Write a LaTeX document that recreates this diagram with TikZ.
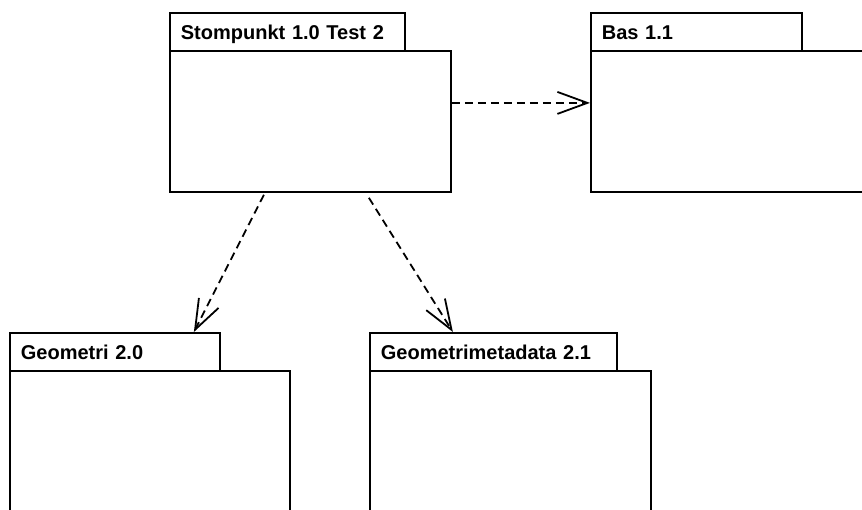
\documentclass[tikz,border=0pt]{standalone}
\usepackage{fontspec}
\setmainfont{Liberation Sans}
\usetikzlibrary{arrows.meta}
\begin{document}
\begin{tikzpicture}[x=1pt,y=-1pt,
  pkgtab/.style={draw, line width=1.8pt, anchor=north west, minimum height=38pt,
    inner xsep=11pt, inner ysep=0pt, align=left, text height=14.5pt, text depth=0pt,
    font=\fontsize{20pt}{24pt}\selectfont\bfseries},
  pkgbody/.style={draw, line width=1.8pt, anchor=north west, inner sep=0pt},
  dep/.style={line width=1.8pt, dash pattern=on 8pt off 5pt,
    -{Straight Barb[length=30pt,width=22pt,line width=1.8pt]}}]
\clip (0,0) rectangle (862,509);
\fill[white] (0,0) rectangle (862,509);
% Stompunkt
\node[pkgbody, minimum width=281pt, minimum height=141pt] (s) at (169,50) {};
\node[pkgtab, text width=213pt] (st) at (169,12) {Stompunkt 1.0 Test 2};
% Bas
\node[pkgbody, minimum width=290pt, minimum height=141pt] (b) at (590,50) {};
\node[pkgtab, text width=189pt] (bt) at (590,12) {Bas 1.1};
% Geometri
\node[pkgbody, minimum width=280pt, minimum height=170pt] (g) at (9,370) {};
\node[pkgtab, text width=188pt] (gt) at (9,332) {Geometri 2.0};
% Geometrimetadata
\node[pkgbody, minimum width=281pt, minimum height=170pt] (m) at (369,370) {};
\node[pkgtab, text width=225pt] (mt) at (369,332) {Geometrimetadata 2.1};
% dependencies
\draw[dep] ([yshift=18.5pt]s.east) -- ([yshift=18.5pt]b.west);
\draw[dep] ([xshift=-46.5pt,yshift=-2pt]s.south) -- ([xshift=79pt]gt.north);
\draw[dep] ([xshift=58.5pt,yshift=-5pt]s.south) -- ([xshift=-40.5pt]mt.north);
\end{tikzpicture}
\end{document}
